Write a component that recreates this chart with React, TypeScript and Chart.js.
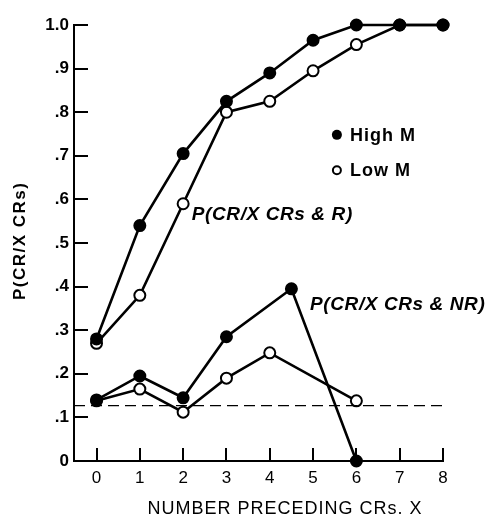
import React, { useEffect, useRef } from 'react';
import { Chart, registerables } from 'chart.js';

Chart.register(...registerables);

const xValues = [0, 1, 2, 3, 4, 5, 6, 7, 8];
const highMR = [0.28, 0.54, 0.705, 0.825, 0.89, 0.965, 1.0, 1.0, 1.0];
const lowMR = [0.27, 0.38, 0.59, 0.8, 0.825, 0.895, 0.955, 1.0, 1.0];
const highMNRX = [0, 1, 2, 3, 4.5, 6];
const highMNR = [0.14, 0.195, 0.145, 0.285, 0.395, 0];
const lowMNRX = [0, 1, 2, 3, 4, 6];
const lowMNR = [0.138, 0.165, 0.112, 0.19, 0.248, 0.138];
const chanceX = [-0.52, 8];
const chanceY = [0.127, 0.127];
const yTickValues = [0, 0.1, 0.2, 0.3, 0.4, 0.5, 0.6, 0.7, 0.8, 0.9, 1.0];
const yTickLabels = ['0', '.1', '.2', '.3', '.4', '.5', '.6', '.7', '.8', '.9', '1.0'];
const xTickLabels = ['0', '1', '2', '3', '4', '5', '6', '7', '8'];
const legendLabels = ['High M', 'Low M'];
const curveLabels = ['P(CR/X CRs & R)', 'P(CR/X CRs & NR)'];
const yTitle = 'P(CR/X CRs)';
const xTitle = 'NUMBER PRECEDING CRs. X';

const FONT = '"Liberation Sans", Arial, Helvetica, sans-serif';

const pts = (xs: number[], ys: number[]) => xs.map((x, i) => ({ x, y: ys[i] }));

const decorPlugin = {
  id: 'decor',
  afterDraw(chart: any) {
    const { ctx } = chart;
    const xs = chart.scales.x;
    const ys = chart.scales.y;
    const left = ys.right;
    const bottom = xs.top;
    ctx.save();
    ctx.setLineDash([]);
    ctx.fillStyle = '#000';
    // inward y ticks
    for (const v of yTickValues) {
      const y = Math.round(ys.getPixelForValue(v));
      ctx.fillRect(left, y - 1, 14, 2);
    }
    // inward x ticks
    for (const v of xValues) {
      const x = Math.round(xs.getPixelForValue(v));
      ctx.fillRect(x - 1, bottom - 13, 2, 13);
    }
    ctx.strokeStyle = '#000';
    ctx.textBaseline = 'middle';
    ctx.textAlign = 'left';
    // curve labels
    ctx.font = `italic bold 19px ${FONT}`;
    (ctx as any).letterSpacing = '0.6px';
    ctx.fillText(curveLabels[0], xs.getPixelForValue(2.2), ys.getPixelForValue(0.565));
    ctx.fillText(curveLabels[1], xs.getPixelForValue(4.93), ys.getPixelForValue(0.358));
    // legend
    ctx.font = `bold 18px ${FONT}`;
    (ctx as any).letterSpacing = '1px';
    const lx = xs.getPixelForValue(5.55);
    const ly1 = ys.getPixelForValue(0.748);
    const ly2 = ys.getPixelForValue(0.667);
    ctx.beginPath();
    ctx.arc(lx, ly1, 5, 0, Math.PI * 2);
    ctx.fill();
    ctx.beginPath();
    ctx.lineWidth = 2;
    ctx.arc(lx, ly2, 4, 0, Math.PI * 2);
    ctx.stroke();
    ctx.fillText(legendLabels[0], lx + 13, ly1 + 1);
    ctx.fillText(legendLabels[1], lx + 13, ly2 + 1);
    // x title
    ctx.font = `18px ${FONT}`;
    (ctx as any).letterSpacing = '1px';
    ctx.textAlign = 'center';
    ctx.fillText(xTitle, xs.getPixelForValue(4.35), 509);
    // y title
    ctx.font = `bold 17px ${FONT}`;
    (ctx as any).letterSpacing = '1.5px';
    ctx.translate(20, ys.getPixelForValue(0.505));
    ctx.rotate(-Math.PI / 2);
    ctx.fillText(yTitle, 0, 0);
    ctx.restore();
  },
};

export default function App() {
  const ref = useRef<HTMLCanvasElement | null>(null);
  useEffect(() => {
    if (!ref.current) return;
    const lineDs = (label: string, data: any[], filled: boolean) => ({
      label,
      data,
      borderColor: '#000',
      borderWidth: 2.6,
      backgroundColor: filled ? '#000' : '#fff',
      pointBackgroundColor: filled ? '#000' : '#fff',
      pointBorderColor: '#000',
      pointBorderWidth: 2,
      pointRadius: 5.5,
      tension: 0,
      clip: false as any,
    });
    const chart = new Chart(ref.current, {
      type: 'line',
      data: {
        datasets: [
          {
            label: 'chance',
            data: pts(chanceX, chanceY),
            borderColor: '#000',
            borderWidth: 1.3,
            borderDash: [11, 6],
            pointRadius: 0,
            clip: false as any,
          },
          lineDs('High M R', pts(xValues, highMR), true),
          lineDs('Low M R', pts(xValues, lowMR), false),
          lineDs('High M NR', pts(highMNRX, highMNR), true),
          lineDs('Low M NR', pts(lowMNRX, lowMNR), false),
        ],
      },
      options: {
        animation: false,
        responsive: false,
        maintainAspectRatio: false,
        layout: { padding: { top: 25, right: 51, bottom: 0, left: 0 } },
        plugins: { legend: { display: false }, tooltip: { enabled: false } },
        scales: {
          x: {
            type: 'linear',
            min: -0.52,
            max: 8,
            afterBuildTicks: (scale: any) => {
              scale.ticks = xValues.map((v) => ({ value: v }));
            },
            afterFit: (scale: any) => {
              scale.height = 57;
            },
            ticks: {
              callback: (v: any) => xTickLabels[xValues.indexOf(Number(v))] ?? '',
              font: { family: FONT, size: 17 },
              color: '#000',
              padding: 7,
              maxRotation: 0,
              autoSkip: false,
            },
            grid: { display: true, drawOnChartArea: false, drawTicks: false },
            border: { display: true, color: '#000', width: 2 },
          },
          y: {
            type: 'linear',
            min: 0,
            max: 1,
            afterBuildTicks: (scale: any) => {
              scale.ticks = yTickValues.map((v) => ({ value: v }));
            },
            afterFit: (scale: any) => {
              scale.width = 74;
            },
            ticks: {
              callback: (v: any) => {
                const i = yTickValues.findIndex((t) => Math.abs(t - Number(v)) < 1e-6);
                return i >= 0 ? yTickLabels[i] : '';
              },
              font: { family: FONT, size: 17, weight: 'bold' },
              color: '#000',
              padding: 5,
              autoSkip: false,
            },
            grid: { display: true, drawOnChartArea: false, drawTicks: false },
            border: { display: true, color: '#000', width: 2 },
          },
        },
      },
      plugins: [decorPlugin],
    });
    return () => chart.destroy();
  }, []);
  return (
    <div style={{ position: 'absolute', left: 0, top: 0, width: 494, height: 518, background: '#fff' }}>
      <canvas ref={ref} width={494} height={518} style={{ width: 494, height: 518, display: 'block' }} />
    </div>
  );
}
